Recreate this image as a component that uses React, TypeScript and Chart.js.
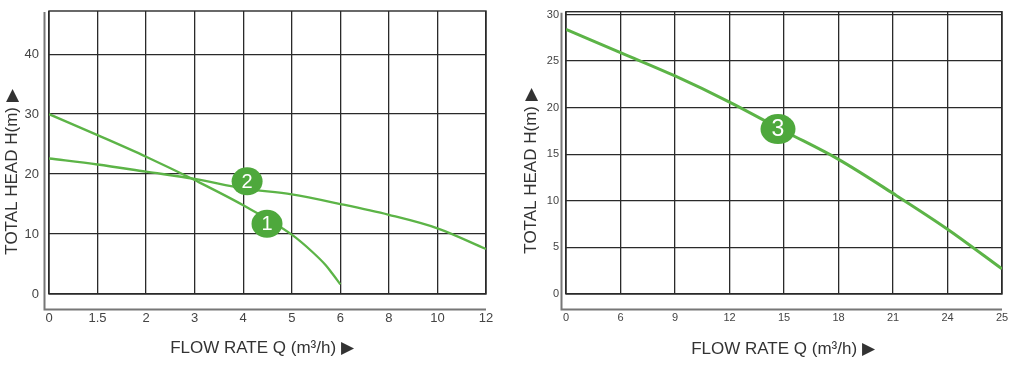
import React, { useEffect, useRef } from "react";
import { Chart, registerables } from "chart.js";

Chart.register(...registerables);

// ---------- Left chart data ----------
const leftXLabels = ["0", "1.5", "2", "3", "4", "5", "6", "8", "10", "12"];
const leftYTicks = [0, 10, 20, 30, 40];
const curve1X = [0, 1, 2, 3, 4, 5, 5.42, 5.7, 5.83, 6];
const curve1Y = [30, 26.5, 22.9, 19.0, 14.8, 9.9, 7.05, 4.8, 3.45, 1.6];
const curve2X = [0, 1, 2, 3, 4, 5, 6, 7, 8, 9];
const curve2Y = [22.6, 21.6, 20.4, 19.2, 17.6, 16.6, 15.0, 13.2, 10.95, 7.5];

// ---------- Right chart data ----------
const rightXLabels = ["0", "6", "9", "12", "15", "18", "21", "24", "25"];
const rightYTicks = [0, 5, 10, 15, 20, 25, 30];
const curve3X = [0, 1, 2, 3, 4, 5, 6, 7, 8];
const curve3Y = [28.4, 25.9, 23.4, 20.6, 17.5, 14.45, 10.8, 6.96, 2.7];

const badgesLeft = [
  { x: 4.08, y: 18.8, text: "2" },
  { x: 4.49, y: 11.7, text: "1" },
];
const badgesRight = [{ x: 3.89, y: 17.7, text: "3" }];

const Y_TITLE = "TOTAL HEAD H(m) \u25B6";
const X_TITLE = "FLOW RATE Q (m\u00B3/h) \u25B6";

const LINE_GREEN = "#5cb447";
const BADGE_GREEN = "#4ea83c";
const FONT = "'Liberation Sans', Arial, sans-serif";

function pts(xs: number[], ys: number[]) {
  return xs.map((x, i) => ({ x, y: ys[i] }));
}

type Cfg = {
  xLabels: string[];
  yTicks: number[];
  yMax: number;
  datasets: { x: number[]; y: number[] }[];
  lineWidth: number;
  badges: { x: number; y: number; text: string }[];
  badgeRx: number;
  badgeRy: number;
  badgeFont: number;
  tickFont: number;
  yAxisWidth: number;
  padRight: number;
  padTop: number;
  xAxisHeight: number;
  yTickPad: number;
  xTickPad: number;
  yTitlePos: [number, number];
  xTitlePos: [number, number];
};

function makeChart(canvas: HTMLCanvasElement, c: Cfg) {
  const framePlugin = {
    id: "frame",
    beforeDatasetsDraw(chart: any) {
      const { ctx, chartArea: a } = chart;
      ctx.save();
      ctx.strokeStyle = "#2a2a2a";
      ctx.lineWidth = 1.4;
      ctx.strokeRect(a.left, a.top, a.right - a.left, a.bottom - a.top);
      // outer offset axis
      ctx.strokeStyle = "#777";
      ctx.lineWidth = 2;
      ctx.beginPath();
      ctx.moveTo(a.left - 4.5, a.top + 1);
      ctx.lineTo(a.left - 4.5, a.bottom + 15.5);
      ctx.lineTo(a.right, a.bottom + 15.5);
      ctx.stroke();
      ctx.restore();
    },
    afterDatasetsDraw(chart: any) {
      const { ctx } = chart;
      const xs = chart.scales.x;
      const ys = chart.scales.y;
      ctx.save();
      for (const b of c.badges) {
        const px = xs.getPixelForValue(b.x);
        const py = ys.getPixelForValue(b.y);
        ctx.fillStyle = BADGE_GREEN;
        ctx.beginPath();
        ctx.ellipse(px, py, c.badgeRx, c.badgeRy, 0, 0, Math.PI * 2);
        ctx.fill();
        ctx.fillStyle = "#ffffff";
        ctx.font = `${c.badgeFont}px ${FONT}`;
        ctx.textAlign = "center";
        ctx.textBaseline = "middle";
        ctx.fillText(b.text, px, py + 1);
      }
      ctx.restore();
    },
    afterDraw(chart: any) {
      const { ctx } = chart;
      ctx.save();
      ctx.fillStyle = "#333";
      ctx.font = `17px ${FONT}`;
      ctx.textAlign = "center";
      ctx.textBaseline = "middle";
      ctx.fillText(X_TITLE, c.xTitlePos[0], c.xTitlePos[1]);
      ctx.translate(c.yTitlePos[0], c.yTitlePos[1]);
      ctx.rotate(-Math.PI / 2);
      ctx.fillText(Y_TITLE, 0, 0);
      ctx.restore();
    },
  };

  return new Chart(canvas, {
    type: "line",
    data: {
      datasets: c.datasets.map((d) => ({
        data: pts(d.x, d.y),
        borderColor: LINE_GREEN,
        borderWidth: c.lineWidth,
        pointRadius: 0,
        cubicInterpolationMode: "monotone" as const,
        fill: false,
      })),
    },
    options: {
      animation: false,
      responsive: false,
      devicePixelRatio: 1,
      parsing: false as any,
      layout: { padding: { left: 0, right: c.padRight, top: c.padTop, bottom: 0 } },
      plugins: { legend: { display: false }, tooltip: { enabled: false } },
      scales: {
        x: {
          type: "linear",
          min: 0,
          max: c.xLabels.length - 1,
          afterFit: (s: any) => {
            s.height = c.xAxisHeight;
            s.paddingLeft = 0;
            s.paddingRight = 0;
          },
          afterBuildTicks: (s: any) => {
            s.ticks = c.xLabels.map((_, i) => ({ value: i }));
          },
          grid: { color: "#2a2a2a", lineWidth: 1.3, drawTicks: false },
          border: { display: false },
          ticks: {
            padding: c.xTickPad,
            maxRotation: 0,
            autoSkip: false,
            color: "#444",
            font: { family: FONT, size: c.tickFont },
            callback: (v: any) => c.xLabels[Math.round(Number(v))] ?? "",
          },
        },
        y: {
          type: "linear",
          min: 0,
          max: c.yMax,
          afterFit: (s: any) => {
            s.width = c.yAxisWidth;
            s.paddingTop = 0;
            s.paddingBottom = 0;
          },
          afterBuildTicks: (s: any) => {
            s.ticks = c.yTicks.map((v) => ({ value: v }));
          },
          grid: { color: "#2a2a2a", lineWidth: 1.3, drawTicks: false },
          border: { display: false },
          ticks: {
            padding: c.yTickPad,
            color: "#444",
            font: { family: FONT, size: c.tickFont },
            callback: (v: any) => String(v),
          },
        },
      },
    },
    plugins: [framePlugin],
  } as any);
}

export default function App() {
  const leftRef = useRef<HTMLCanvasElement>(null);
  const rightRef = useRef<HTMLCanvasElement>(null);

  useEffect(() => {
    const left = makeChart(leftRef.current!, {
      xLabels: leftXLabels,
      yTicks: leftYTicks,
      yMax: 47.2,
      datasets: [
        { x: curve1X, y: curve1Y },
        { x: curve2X, y: curve2Y },
      ],
      lineWidth: 2.3,
      badges: badgesLeft,
      badgeRx: 15.5,
      badgeRy: 14,
      badgeFont: 20,
      tickFont: 13,
      yAxisWidth: 49,
      padRight: 14,
      padTop: 11,
      xAxisHeight: 76,
      yTickPad: 10,
      xTickPad: 17,
      yTitlePos: [12, 172],
      xTitlePos: [262, 348],
    });
    const right = makeChart(rightRef.current!, {
      xLabels: rightXLabels,
      yTicks: rightYTicks,
      yMax: 30.3,
      datasets: [{ x: curve3X, y: curve3Y }],
      lineWidth: 3,
      badges: badgesRight,
      badgeRx: 17.5,
      badgeRy: 15,
      badgeFont: 23,
      tickFont: 11,
      yAxisWidth: 56,
      padRight: 11,
      padTop: 11.7,
      xAxisHeight: 76,
      yTickPad: 7,
      xTickPad: 17,
      yTitlePos: [21, 171],
      xTitlePos: [273, 349],
    });
    return () => {
      left.destroy();
      right.destroy();
    };
  }, []);

  return (
    <div
      style={{
        position: "absolute",
        top: 0,
        left: 0,
        width: 1013,
        height: 370,
        background: "#fff",
      }}
    >
      <canvas
        ref={leftRef}
        width={500}
        height={370}
        style={{ position: "absolute", left: 0, top: 0, width: 500, height: 370 }}
      />
      <canvas
        ref={rightRef}
        width={503}
        height={370}
        style={{ position: "absolute", left: 510, top: 0, width: 503, height: 370 }}
      />
    </div>
  );
}
